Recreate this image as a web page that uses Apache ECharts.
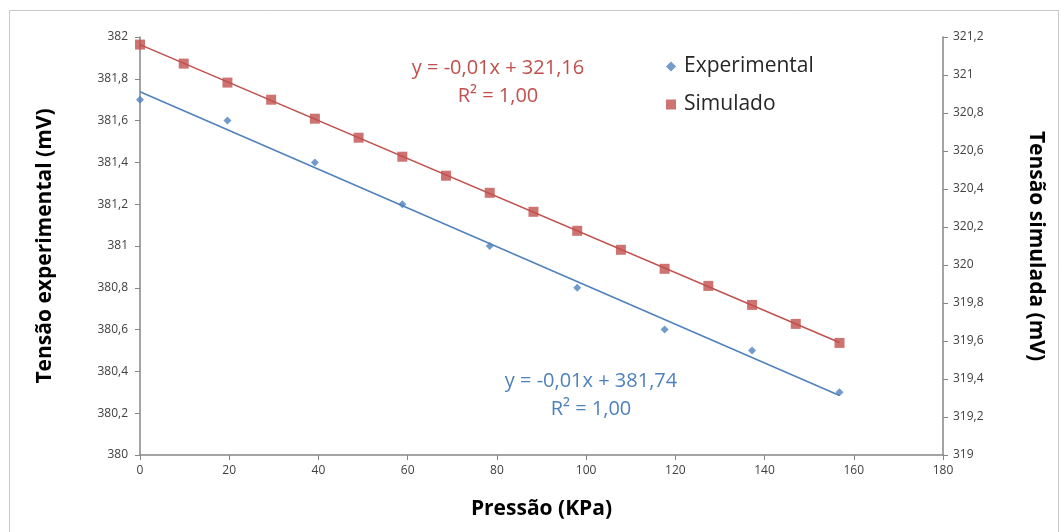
<!DOCTYPE html>
<html>
<head>
<meta charset="utf-8">
<script src="https://cdn.jsdelivr.net/npm/echarts@6/dist/echarts.min.js"></script>
<style>
html,body{margin:0;padding:0;background:#fff;}
#chart{width:1062px;height:532px;}
</style>
</head>
<body>
<div id="chart"></div>
<script>
// ---- data ----
const pressExp = [0, 19.6, 39.2, 58.8, 78.4, 98, 117.6, 137.2, 156.8];
const tensaoExp = [381.7, 381.6, 381.4, 381.2, 381.0, 380.8, 380.6, 380.5, 380.3];
const pressSim = [0, 9.8, 19.6, 29.4, 39.2, 49, 58.8, 68.6, 78.4, 88.2, 98, 107.8, 117.6, 127.4, 137.2, 147, 156.8];
const tensaoSim = [321.16, 321.06, 320.96, 320.87, 320.77, 320.67, 320.57, 320.47, 320.38, 320.28, 320.18, 320.08, 319.98, 319.89, 319.79, 319.69, 319.59];
const seriesNames = ['Experimental', 'Simulado'];
const eqExp = ['y = -0,01x + 381,74', 'R² = 1,00'];
const eqSim = ['y = -0,01x + 321,16', 'R² = 1,00'];
const xTitle = 'Pressão (KPa)';
const yLeftTitle = 'Tensão experimental (mV)';
const yRightTitle = 'Tensão simulada (mV)';

function regress(xs, ys) {
  const n = xs.length;
  const mx = xs.reduce((a, b) => a + b, 0) / n;
  const my = ys.reduce((a, b) => a + b, 0) / n;
  let sxy = 0, sxx = 0;
  for (let i = 0; i < n; i++) { sxy += (xs[i] - mx) * (ys[i] - my); sxx += (xs[i] - mx) ** 2; }
  const b = sxy / sxx, a = my - b * mx;
  const x0 = xs[0], x1 = xs[n - 1];
  return [[x0, a + b * x0], [x1, a + b * x1]];
}
const fmt = v => String(+Number(v).toFixed(1)).replace('.', ',');
const zip = (a, b) => a.map((v, i) => [v, b[i]]);

const BLUE = '#4F81BD', RED = '#C0504D';
const FONT = '"Open Sans", "Liberation Sans", sans-serif';
const axisLine = { show: true, lineStyle: { color: '#868686', width: 1.5 } };
const axisTick = { show: true, inside: false, length: 5, lineStyle: { color: '#868686' } };
const labelStyle = { color: '#404040', fontFamily: FONT, fontSize: 12 };
const nameStyle = { color: '#000', fontFamily: FONT, fontSize: 21, fontWeight: 'bold' };

const chart = echarts.init(document.getElementById('chart'), null, { renderer: 'canvas' });
chart.setOption({
  animation: false,
  backgroundColor: '#fff',
  grid: { left: 140, right: 119, top: 37, bottom: 77, containLabel: false },
  legend: {
    orient: 'vertical', left: 661, top: 51, itemGap: 17,
    itemWidth: 10, itemHeight: 10,
    textStyle: { color: '#262626', fontFamily: FONT, fontSize: 21, padding: [0, 0, 0, 3] },
    data: [
      { name: seriesNames[0], icon: 'diamond', itemStyle: { color: BLUE } },
      { name: seriesNames[1], icon: 'rect', itemStyle: { color: RED } }
    ]
  },
  xAxis: {
    type: 'value', min: 0, max: 180, interval: 20,
    axisLine, axisTick, splitLine: { show: false },
    axisLabel: Object.assign({ margin: 10 }, labelStyle),
    name: xTitle, nameLocation: 'middle', nameGap: 44, nameTextStyle: nameStyle
  },
  yAxis: [
    {
      type: 'value', min: 380, max: 382, interval: 0.2, position: 'left',
      axisLine, axisTick, splitLine: { show: false },
      axisLabel: Object.assign({ margin: 12, formatter: fmt }, labelStyle),
      name: yLeftTitle, nameLocation: 'middle', nameGap: 84, nameRotate: 90, nameTextStyle: nameStyle
    },
    {
      type: 'value', min: 319, max: 321.2, interval: 0.2, position: 'right',
      axisLine, axisTick, splitLine: { show: false },
      axisLabel: Object.assign({ margin: 10, formatter: fmt }, labelStyle),
      name: yRightTitle, nameLocation: 'middle', nameGap: 82, nameRotate: -90, nameTextStyle: nameStyle
    }
  ],
  series: [
    {
      name: seriesNames[0] + ' tendência', type: 'line', yAxisIndex: 0,
      data: regress(pressExp, tensaoExp), symbol: 'none', silent: true,
      lineStyle: { color: BLUE, width: 1.5 }, z: 1
    },
    {
      name: seriesNames[1] + ' tendência', type: 'line', yAxisIndex: 1,
      data: regress(pressSim, tensaoSim), symbol: 'none', silent: true,
      lineStyle: { color: RED, width: 1.5 }, z: 1
    },
    {
      name: seriesNames[0], type: 'scatter', yAxisIndex: 0,
      data: zip(pressExp, tensaoExp), symbol: 'diamond', symbolSize: 8,
      itemStyle: { color: BLUE }, z: 3
    },
    {
      name: seriesNames[1], type: 'scatter', yAxisIndex: 1,
      data: zip(pressSim, tensaoSim), symbol: 'rect', symbolSize: 10,
      itemStyle: { color: RED }, z: 3
    }
  ],
  graphic: [
    { type: 'rect', left: 7, top: 8, shape: { width: 1049, height: 540 }, style: { fill: 'none', stroke: '#c8c8c8', lineWidth: 1 }, silent: true, z: -1 },
    { type: 'text', x: 498, y: 54, style: { text: eqSim[0] + '\n' + eqSim[1], fill: RED, font: '20px ' + FONT, textAlign: 'center', lineHeight: 28 } },
    { type: 'text', x: 591, y: 367, style: { text: eqExp[0] + '\n' + eqExp[1], fill: BLUE, font: '20px ' + FONT, textAlign: 'center', lineHeight: 28 } }
  ]
});
</script>
</body>
</html>
